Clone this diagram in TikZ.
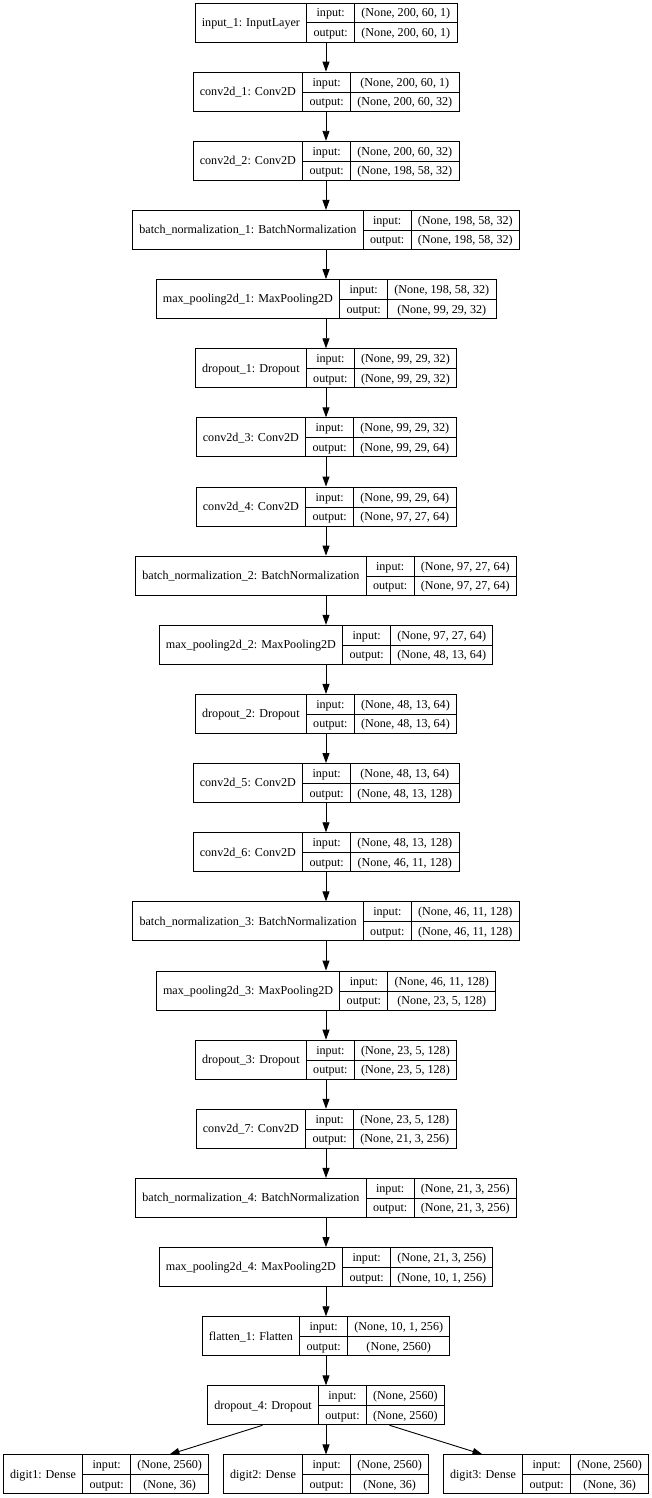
\documentclass[tikz,border=0pt]{standalone}
\usepackage{fontspec}
\setmainfont{Liberation Serif}
\usetikzlibrary{arrows.meta}
\setlength{\tabcolsep}{6.8pt}
\setlength{\arrayrulewidth}{0.9pt}
% one keras layer: name | input:/output: | shapes
\newcommand{\lyr}[3]{%
  \begin{tabular}{c|c|c}
    \rule[-5.5pt]{0pt}{19.5pt} & input: & #2 \\ \cline{2-3}
    \rule[-5.5pt]{0pt}{19.5pt}\raisebox{10.2pt}[0pt][0pt]{#1} & output: & #3
  \end{tabular}}
\tikzset{
  layer/.style={draw, line width=0.9pt, inner sep=0pt, font=\fontsize{12.1}{14}\selectfont},
  flow/.style={-{Triangle[length=10pt,width=7pt]}, line width=0.9pt},
}
\begin{document}
\begin{tikzpicture}[x=1pt,y=-1pt]
\useasboundingbox (0,0) rectangle (652,1498);

\node[layer] (inp1) at (326,22.5) {\lyr{input\_1: InputLayer}{(None, 200, 60, 1)}{(None, 200, 60, 1)}};
\node[layer] (conv1) at (326,91.6) {\lyr{conv2d\_1: Conv2D}{(None, 200, 60, 1)}{(None, 200, 60, 32)}};
\node[layer] (conv2) at (326,160.8) {\lyr{conv2d\_2: Conv2D}{(None, 200, 60, 32)}{(None, 198, 58, 32)}};
\node[layer] (bn1) at (326,229.9) {\lyr{batch\_normalization\_1: BatchNormalization}{(None, 198, 58, 32)}{(None, 198, 58, 32)}};
\node[layer] (pool1) at (326,299.1) {\lyr{max\_pooling2d\_1: MaxPooling2D}{(None, 198, 58, 32)}{(None, 99, 29, 32)}};
\node[layer] (drop1) at (326,368.2) {\lyr{dropout\_1: Dropout}{(None, 99, 29, 32)}{(None, 99, 29, 32)}};
\node[layer] (conv3) at (326,437.3) {\lyr{conv2d\_3: Conv2D}{(None, 99, 29, 32)}{(None, 99, 29, 64)}};
\node[layer] (conv4) at (326,506.5) {\lyr{conv2d\_4: Conv2D}{(None, 99, 29, 64)}{(None, 97, 27, 64)}};
\node[layer] (bn2) at (326,575.6) {\lyr{batch\_normalization\_2: BatchNormalization}{(None, 97, 27, 64)}{(None, 97, 27, 64)}};
\node[layer] (pool2) at (326,644.8) {\lyr{max\_pooling2d\_2: MaxPooling2D}{(None, 97, 27, 64)}{(None, 48, 13, 64)}};
\node[layer] (drop2) at (326,713.9) {\lyr{dropout\_2: Dropout}{(None, 48, 13, 64)}{(None, 48, 13, 64)}};
\node[layer] (conv5) at (326,783.0) {\lyr{conv2d\_5: Conv2D}{(None, 48, 13, 64)}{(None, 48, 13, 128)}};
\node[layer] (conv6) at (326,852.2) {\lyr{conv2d\_6: Conv2D}{(None, 48, 13, 128)}{(None, 46, 11, 128)}};
\node[layer] (bn3) at (326,921.3) {\lyr{batch\_normalization\_3: BatchNormalization}{(None, 46, 11, 128)}{(None, 46, 11, 128)}};
\node[layer] (pool3) at (326,990.5) {\lyr{max\_pooling2d\_3: MaxPooling2D}{(None, 46, 11, 128)}{(None, 23, 5, 128)}};
\node[layer] (drop3) at (326,1059.6) {\lyr{dropout\_3: Dropout}{(None, 23, 5, 128)}{(None, 23, 5, 128)}};
\node[layer] (conv7) at (326,1128.7) {\lyr{conv2d\_7: Conv2D}{(None, 23, 5, 128)}{(None, 21, 3, 256)}};
\node[layer] (bn4) at (326,1197.9) {\lyr{batch\_normalization\_4: BatchNormalization}{(None, 21, 3, 256)}{(None, 21, 3, 256)}};
\node[layer] (pool4) at (326,1267.0) {\lyr{max\_pooling2d\_4: MaxPooling2D}{(None, 21, 3, 256)}{(None, 10, 1, 256)}};
\node[layer] (flat1) at (326,1336.2) {\lyr{flatten\_1: Flatten}{(None, 10, 1, 256)}{(None, 2560)}};
\node[layer] (drop4) at (326,1405.3) {\lyr{dropout\_4: Dropout}{(None, 2560)}{(None, 2560)}};
\node[layer] (dig1) at (106,1474.4) {\lyr{digit1: Dense}{(None, 2560)}{(None, 36)}};
\node[layer] (dig2) at (326,1474.4) {\lyr{digit2: Dense}{(None, 2560)}{(None, 36)}};
\node[layer] (dig3) at (546,1474.4) {\lyr{digit3: Dense}{(None, 2560)}{(None, 36)}};

\foreach \a/\b in {inp1/conv1, conv1/conv2, conv2/bn1, bn1/pool1, pool1/drop1,
    drop1/conv3, conv3/conv4, conv4/bn2, bn2/pool2, pool2/drop2, drop2/conv5,
    conv5/conv6, conv6/bn3, bn3/pool3, pool3/drop3, drop3/conv7, conv7/bn4,
    bn4/pool4, pool4/flat1, flat1/drop4, drop4/dig1, drop4/dig2, drop4/dig3}
  \draw[flow] (\a) -- (\b);
\end{tikzpicture}
\end{document}
